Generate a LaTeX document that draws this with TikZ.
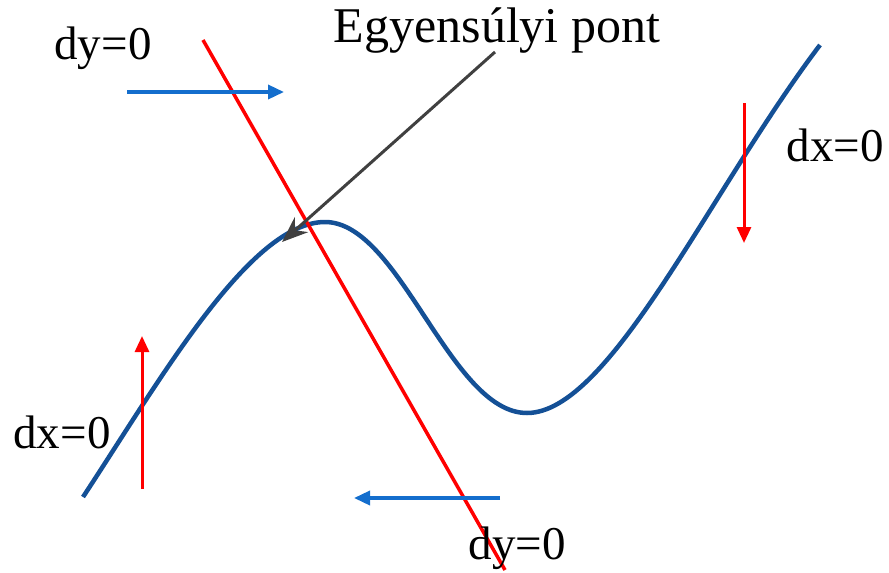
\documentclass[tikz,border=0pt]{standalone}
\usepackage{fontspec}
\setmainfont{Liberation Serif}
\usetikzlibrary{arrows.meta}
\definecolor{curveblue}{RGB}{20,80,150}
\definecolor{arrblue}{RGB}{20,110,205}
\definecolor{ptr}{RGB}{64,64,64}
\tikzset{
  lbl/.style={inner sep=0pt, font=\fontsize{47}{50}\selectfont},
  biglbl/.style={inner sep=0pt, font=\fontsize{50}{54}\selectfont},
  flowb/.style={arrblue, line width=3.5pt, -{Triangle[length=16pt,width=14pt]}},
  flowr/.style={red, line width=3pt, -{Triangle[length=16pt,width=14pt]}},
  nullc/.style={red, line width=3.5pt},
  manif/.style={curveblue, line width=4.5pt},
  pointer/.style={ptr, line width=3pt, -{Stealth[length=26pt,width=20pt]}}
}
\begin{document}
\begin{tikzpicture}[x=1pt,y=-1pt]
\useasboundingbox (0,0) rectangle (889,573);
% curve
\draw[manif] (83,497) .. controls (160,380) and (250,222) .. (325,222)
  .. controls (400,222) and (450,413) .. (527,413)
  .. controls (610,413) and (710,190) .. (820,45);
% red nullcline
\coordinate (r1) at (203,40);
\coordinate (r2) at (505,570);
\draw[nullc] (r1) -- (r2);
% blue arrows
\coordinate (b1s) at (127,92); \coordinate (b1e) at (284,92);
\draw[flowb] (b1s) -- (b1e);
\coordinate (b2s) at (500,498); \coordinate (b2e) at (354,498);
\draw[flowb] (b2s) -- (b2e);
% red arrows
\coordinate (ra1s) at (142,489); \coordinate (ra1e) at (142,336);
\draw[flowr] (ra1s) -- (ra1e);
\coordinate (ra2s) at (744,103); \coordinate (ra2e) at (744,243);
\draw[flowr] (ra2s) -- (ra2e);
% pointer
\coordinate (ps) at (495,52); \coordinate (pe) at (282,242);
\draw[pointer] (ps) -- (pe);
% labels
\node[lbl] (dytop) at (103,48) {dy=0};
\node[lbl] (dxright) at (835,145) {dx=0};
\node[lbl] (dxleft) at (62,432) {dx=0};
\node[lbl] (dybot) at (517,548) {dy=0};
\node[biglbl] (eq) at (497,31) {Egyensúlyi pont};
\end{tikzpicture}
\end{document}
